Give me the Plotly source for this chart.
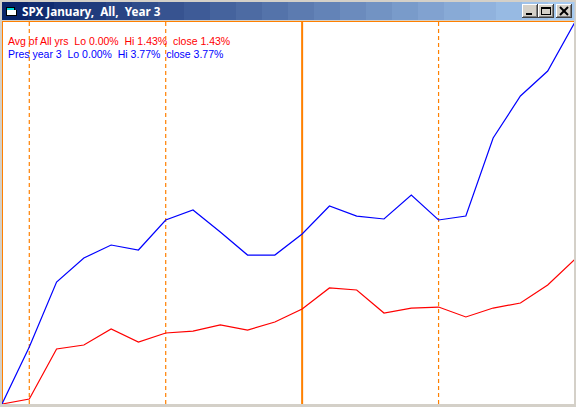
import plotly.graph_objects as go

# trading day index in the month
days = list(range(22))

# cumulative percent change
avg_all_yrs = [0, 0.049, 0.543, 0.582, 0.740, 0.612, 0.701, 0.720, 0.780, 0.730, 0.809,
               0.938, 1.145, 1.125, 0.898, 0.947, 0.957, 0.859, 0.947, 0.997, 1.174, 1.43]
pres_year_3 = [0, 0.563, 1.204, 1.441, 1.569, 1.520, 1.816, 1.915, 1.698, 1.470, 1.470,
               1.678, 1.954, 1.855, 1.826, 2.063, 1.816, 1.855, 2.625, 3.040, 3.286, 3.77]

solid_days = [0, 11]
dashed_days = [1, 6, 16]

title_text = "SPX January,  All,  Year 3"
avg_text = "Avg of All yrs  Lo 0.00%  Hi 1.43%  close 1.43%"
pres_text = "Pres year 3  Lo 0.00%  Hi 3.77%  close 3.77%"

WIDTH, HEIGHT = 576, 407
LEFT, RIGHT, TOP, BOTTOM = 2, 575, 22, 404
ORANGE = "#ff8000"
GREY = "#d4d0c8"


def px_x(x):
    return (x - LEFT) / (RIGHT - LEFT)


def px_y(y):
    return 1 - (y - TOP) / (BOTTOM - TOP)


def box(x0, y0, x1, y1, color):
    """Filled rectangle given in window pixels"""
    return dict(type="rect", xref="paper", yref="paper", layer="above",
                x0=px_x(x0), x1=px_x(x1), y0=px_y(y0), y1=px_y(y1),
                fillcolor=color, line_width=0)


def stroke(x0, y0, x1, y1, color, width=1):
    return dict(type="line", xref="paper", yref="paper", layer="above",
                x0=px_x(x0), x1=px_x(x1), y0=px_y(y0), y1=px_y(y1),
                line=dict(color=color, width=width))


shapes = []

# title bar gradient, banded like the original
bands = 22
c0, c1 = (10, 36, 106), (166, 202, 240)
for i in range(bands):
    t = i / (bands - 1)
    col = "rgb(%d,%d,%d)" % tuple(round(a + (b - a) * t) for a, b in zip(c0, c1))
    x0 = 2 + i * 572 / bands
    shapes.append(box(x0, 2, x0 + 572 / bands + 0.5, 20, col))

# title bar icon
shapes += [
    box(6, 7, 15, 16, "#000000"),
    box(15, 10, 17, 16, "#000000"),
    box(7, 10, 16, 15, "#ffffff"),
    box(7, 8, 14, 10, "#00d8d8"),
]

# window buttons
for bx in [522, 538, 556]:
    shapes += [
        box(bx, 4, bx + 16, 18, "#404040"),
        box(bx, 4, bx + 15, 17, "#ffffff"),
        box(bx + 1, 5, bx + 15, 17, "#808080"),
        box(bx + 1, 5, bx + 14, 16, GREY),
    ]
shapes.append(box(526, 13, 532, 15, "#000000"))
shapes += [box(541, 7, 551, 15, "#000000"), box(542, 9, 550, 14, GREY)]
shapes += [stroke(560, 7, 568, 15, "#000000", 2), stroke(568, 7, 560, 15, "#000000", 2)]

# orange frame along the top, grey window edge on the right
shapes.append(box(2, 21, 574, 22, ORANGE))
shapes.append(box(574, 21, 576, 404, GREY))

# month markers
for d in solid_days:
    shapes.append(dict(type="line", xref="x", yref="paper", layer="below", x0=d, x1=d, y0=0, y1=1,
                       line=dict(color=ORANGE, width=2)))
for d in dashed_days:
    shapes.append(dict(type="line", xref="x", yref="paper", layer="below", x0=d, x1=d, y0=0, y1=1,
                       line=dict(color=ORANGE, width=1.2, dash="4px,3px")))

fig = go.Figure()
fig.add_trace(go.Scatter(x=days, y=avg_all_yrs, mode="lines", line=dict(color="#ff0000", width=1.2),
                         cliponaxis=False, name="Avg of All yrs"))
fig.add_trace(go.Scatter(x=days, y=pres_year_3, mode="lines", line=dict(color="#0000ff", width=1.2),
                         cliponaxis=False, name="Pres year 3"))

annotations = [
    dict(text="<b>%s</b>" % title_text, x=px_x(22), y=px_y(11), font=dict(family="Noto Sans", size=11.7, color="#ffffff")),
    dict(text=avg_text, x=px_x(8), y=px_y(41), font=dict(family="Liberation Sans", size=10.5, color="#ff0000")),
    dict(text=pres_text, x=px_x(8), y=px_y(54), font=dict(family="Liberation Sans", size=10.5, color="#0000ff")),
]
for a in annotations:
    a.update(xref="paper", yref="paper", xanchor="left", yanchor="middle", showarrow=False,
             borderpad=0, borderwidth=0)

fig.update_layout(
    width=WIDTH,
    height=HEIGHT,
    margin=dict(l=LEFT, r=WIDTH - RIGHT, t=TOP, b=HEIGHT - BOTTOM, pad=0),
    paper_bgcolor=GREY,
    plot_bgcolor="#ffffff",
    showlegend=False,
    shapes=shapes,
    annotations=annotations,
    xaxis=dict(range=[0, 21], visible=False),
    yaxis=dict(range=[0, 3.77], visible=False),
)

# page default margin would push the window 8px off
fig.write_html("out.html", config={"displayModeBar": False},
               post_script="document.body.style.margin = '0';")
